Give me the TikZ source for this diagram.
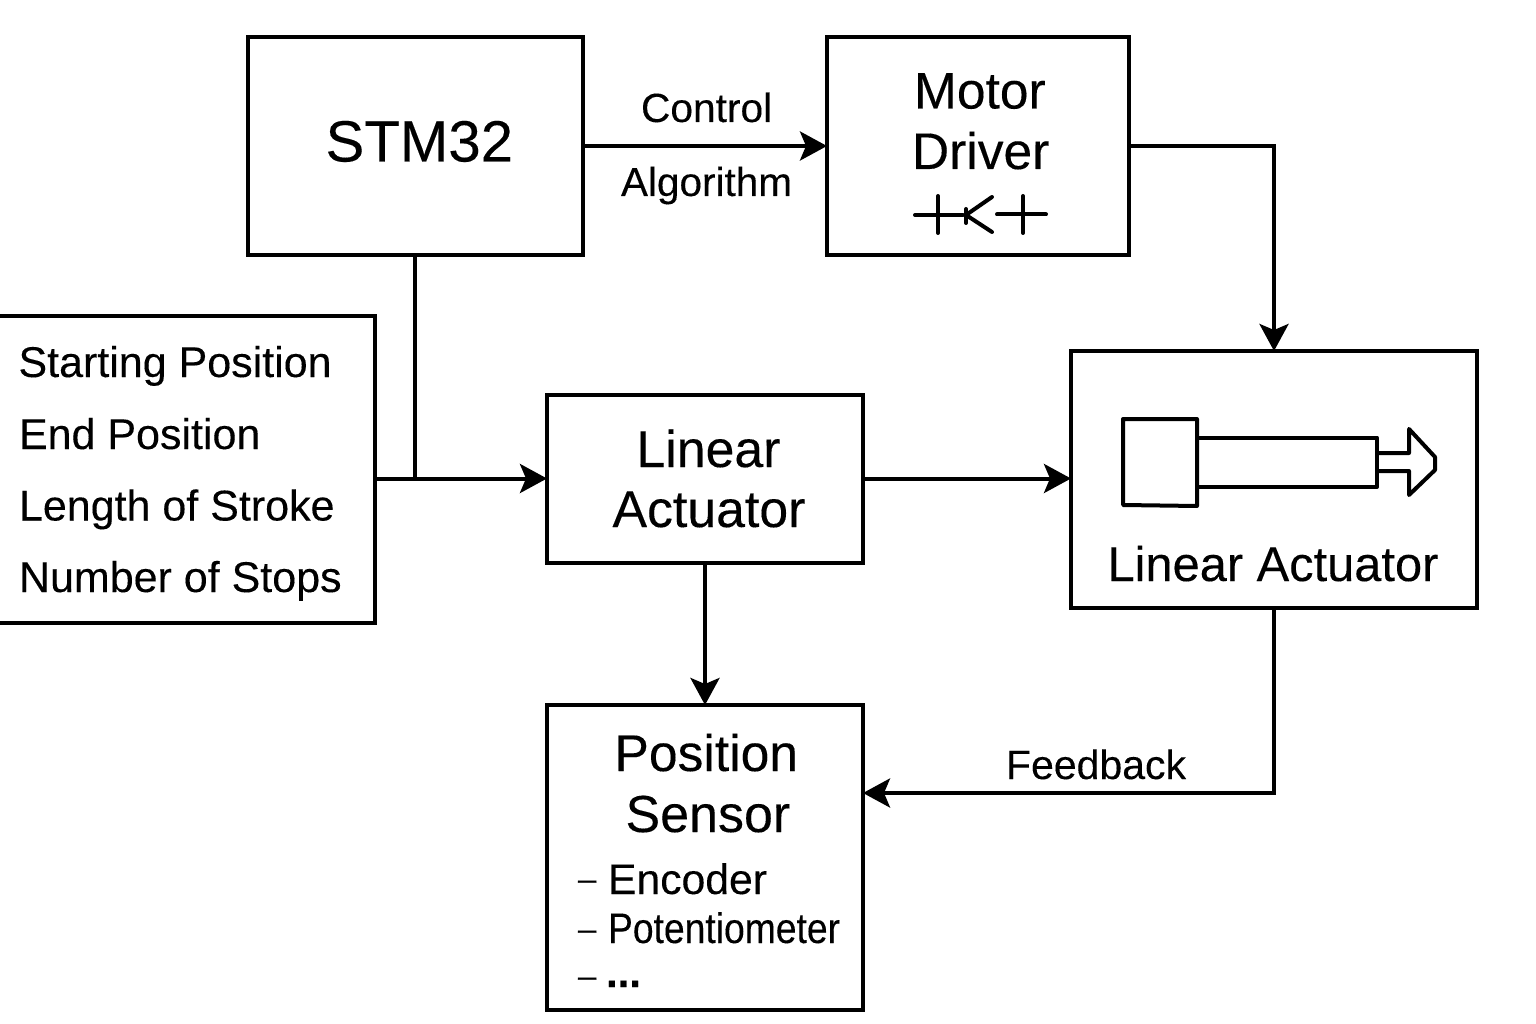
\documentclass[tikz,border=0pt]{standalone}
\usepackage{fontspec}
\usepackage{graphicx}
\setmainfont[FakeBold=0.2]{Liberation Sans}
\usetikzlibrary{arrows.meta}
\newcommand{\fs}[1]{\fontsize{#1}{#1}\selectfont}
\tikzset{
  boxnode/.style={draw=black,line width=4pt,fill=white,inner sep=0pt,outer sep=0pt,rectangle},
  lbl/.style={inner sep=0pt,outer sep=0pt,anchor=base west,text=black},
  wire/.style={draw=black,line width=4pt},
  flow/.style={wire,-{Stealth[length=27pt,width=29pt,inset=6pt]}},
  sym/.style={draw=black,line width=4pt,line join=round}
}
\begin{document}
\begin{tikzpicture}[x=1pt,y=-1pt]
\useasboundingbox (0,0) rectangle (1536,1024);
% boxes: (cx,cy), w, h
\node[boxnode,minimum width=335pt,minimum height=218pt] (stm) at (415,146) {};
\node[boxnode,minimum width=302pt,minimum height=218pt] (drv) at (978,146) {};
\node[boxnode,minimum width=406pt,minimum height=257pt] (act) at (1274,479.5) {};
\node[boxnode,minimum width=316pt,minimum height=168pt] (la) at (705,478.5) {};
\node[boxnode,minimum width=316pt,minimum height=305pt] (ps) at (705,857.5) {};
\node[boxnode,minimum width=415pt,minimum height=307pt] (par) at (167.5,469.5) {};
\coordinate (fb) at (act.south |- 0,793);
% connectors
\draw[wire] (stm.south) -- (stm.south |- la.west);
\draw[flow] (par.east |- la.west) -- (la.west);
\draw[flow] (stm.east) -- (drv.west);
\draw[flow] (drv.east) -| (act.north);
\draw[flow] (la.east) -- (act.west |- la.east);
\draw[flow] (la.south) -- (ps.north);
\draw[flow] (act.south) -- (fb) -- (ps.east |- fb);
% labels
\node[lbl,font=\fs{58.2}] (t1) at (325.5,161.5) {STM32};
\node[lbl,font=\fs{51.5}] (t2) at (914,108.5) {Motor};
\node[lbl,font=\fs{51.5}] (t3) at (912,169) {Driver};
\node[lbl,font=\fs{40.7}] (t4) at (641,122) {Control};
\node[lbl,font=\fs{40.5}] (t5) at (621,196) {Algorithm};
\node[lbl,font=\fs{43}] (t6) at (18.5,377) {Starting Position};
\node[lbl,font=\fs{43}] (t7) at (19,449) {End Position};
\node[lbl,font=\fs{43}] (t8) at (19,520.5) {Length of Stroke};
\node[lbl,font=\fs{43}] (t9) at (19,592) {Number of Stops};
\node[lbl,font=\fs{51.8}] (t10) at (636.5,467) {Linear};
\node[lbl,font=\fs{51.8}] (t11) at (612.5,527) {Actuator};
\node[lbl,font=\fs{48.8}] (t12) at (1107.5,581) {Linear Actuator};
\node[lbl,font=\fs{51.6}] (t13) at (614.5,771) {Position};
\node[lbl,font=\fs{52}] (t14) at (625.5,832) {Sensor};
\node[lbl,font=\fs{41}] (t15) at (1006,779) {Feedback};
\node[lbl,font=\fs{33}] (d1) at (578,890) {–};
\node[lbl,font=\fs{33}] (d2) at (578,940) {–};
\node[lbl,font=\fs{33}] (d3) at (578,987) {–};
\node[lbl,font=\fs{42.7}] (t16) at (608,894) {Encoder};
\node[lbl,font=\fs{42.7}] (t17) at (608,943) {\scalebox{.873}[1]{Potentiometer}};
\node[lbl,font=\fs{42}\bfseries] (t18) at (606,987) {...};
% driver symbol
\draw[sym,line cap=round] (915,215) -- (963,215) (938,196) -- (938,233);
\draw[sym,line cap=round] (966,209) -- (966,223);
\draw[sym,line cap=round] (992,197) -- (966,215) -- (992,232);
\draw[sym,line cap=round] (997,214.5) -- (1046,214.5) (1023,196) -- (1023,233);
% actuator drawing
\draw[sym] (1123,419) -- (1197,419) -- (1197,506) -- (1123,505) -- cycle;
\draw[sym] (1197,437.5) -- (1377,437.5) -- (1377,487) -- (1197,487);
\draw[sym] (1377,453) -- (1409,453) -- (1409,429) -- (1435,457) -- (1435,470) -- (1409,495) -- (1409,471) -- (1377,471);
\end{tikzpicture}
\end{document}
